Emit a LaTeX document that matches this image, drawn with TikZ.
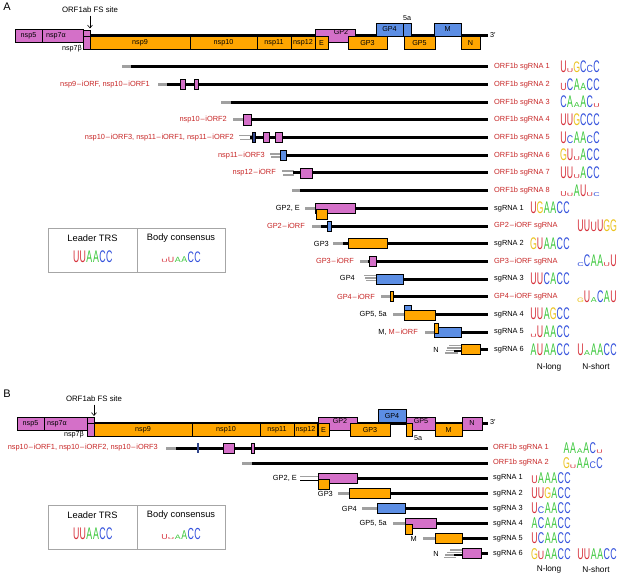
\documentclass[tikz,border=0pt]{standalone}
\usepackage{fontspec}
\setmainfont{Liberation Sans}
\usepackage{graphicx}
\usetikzlibrary{arrows.meta}
\definecolor{pinkc}{RGB}{212,112,200}
\definecolor{orangec}{RGB}{255,166,0}
\definecolor{bluec}{RGB}{92,142,228}
\definecolor{navyc}{RGB}{50,70,140}
\definecolor{redt}{RGB}{200,40,40}
\definecolor{gryl}{RGB}{160,160,160}
\definecolor{lu}{RGB}{215,50,60}
\definecolor{la}{RGB}{60,200,60}
\definecolor{lc}{RGB}{50,80,220}
\definecolor{lg}{RGB}{235,195,30}
\newcommand{\fsz}{\fontsize{7.4}{8}\selectfont}
\newcommand{\gsz}{\fontsize{7.2}{8}\selectfont}
\newcommand{\dsh}{\kern0.8pt–\kern0.8pt}
\newcommand{\LgL}[3]{\makebox[6.6pt]{\textcolor{#1}{\scalebox{1.1}[#2]{#3}}}}
\newcommand{\LgU}[1]{\LgL{lu}{#1}{U}}
\newcommand{\LgA}[1]{\LgL{la}{#1}{A}}
\newcommand{\LgC}[1]{\LgL{lc}{#1}{C}}
\newcommand{\LgG}[1]{\LgL{lg}{#1}{G}}
\begin{document}
\begin{tikzpicture}[x=1pt,y=-1pt,
  boxP/.style={fill=pinkc,draw=black,line width=0.5pt},
  boxO/.style={fill=orangec,draw=black,line width=0.5pt},
  boxB/.style={fill=bluec,draw=black,line width=0.5pt},
  rnaline/.style={line width=3pt,black},
  ldrline/.style={line width=3pt,gryl},
  thinldr/.style={line width=1.5pt,gryl},
  thinblk/.style={line width=1.5pt,black},
  leftlbl/.style={font=\fsz,anchor=east,inner sep=0pt},
  rightlbl/.style={font=\fsz,anchor=west,inner sep=0pt},
  genlbl/.style={font=\gsz,inner sep=0pt},
  logonode/.style={font=\fontsize{8}{8}\selectfont,anchor=base west,inner sep=0pt},
  legtxt/.style={font=\fontsize{9.3}{10}\selectfont,inner sep=0pt},
  panel/.style={font=\fontsize{11}{12}\selectfont,inner sep=0pt},
  nlab/.style={font=\fontsize{8.3}{9}\selectfont,inner sep=0pt}]
\useasboundingbox[fill=white] (0,0) rectangle (617,577);

%%%%%%%%%%%%%%%% PANEL A %%%%%%%%%%%%%%%%
\node[panel] (pA) at (7,7) {A};
\node[font=\fontsize{7.8}{9}\selectfont,inner sep=0pt] (fsA) at (90,10) {ORF1ab FS site};
\coordinate (fsAend) at (90,28.5);
\draw[-{Straight Barb[length=3pt,width=5pt]},line width=0.6pt] (fsA.south) ++(0,2.5) -- (fsAend);
% genome
\draw[rnaline] (15,36) -- (488,36);
\draw[boxP] (15,29.5) rectangle (42,42.5);
\draw[boxP] (42,29.5) rectangle (83,42.5);
\draw[boxP] (83,30) rectangle (90,36.5);
\draw[boxP] (83,36.5) rectangle (90,49.5);
\draw[boxO] (90,36.5) rectangle (190,49.5);
\draw[boxO] (190,36.5) rectangle (257,49.5);
\draw[boxO] (257,36.5) rectangle (291,49.5);
\draw[boxO] (291,36.5) rectangle (315,49.5);
\draw[boxP] (315,29.5) rectangle (355,42.5);
\draw[boxO] (315,36.5) rectangle (328,49.5);
\draw[boxO] (348,36.5) rectangle (387,49.5);
\draw[boxB] (376,23) rectangle (403,36);
\draw[boxB] (403,23) rectangle (411,36);
\draw[boxO] (404,36.5) rectangle (435,49.5);
\draw[boxB] (434,23) rectangle (461,36);
\draw[boxO] (461,36.5) rectangle (480,49.5);
\node[genlbl] (gA1) at (28.5,36) {nsp5};
\node[genlbl] (gA2) at (56,36) {nsp7α};
\node[genlbl,anchor=east] (gA3) at (82,48.5) {nsp7β};
\node[genlbl] (gA4) at (140,43) {nsp9};
\node[genlbl] (gA5) at (223.5,43) {nsp10};
\node[genlbl] (gA6) at (274,43) {nsp11};
\node[genlbl] (gA7) at (303,43) {nsp12};
\node[genlbl] (gA8) at (321.5,43) {E};
\node[genlbl] (gA9) at (341,32.5) {GP2};
\node[genlbl] (gA10) at (367.5,43) {GP3};
\node[genlbl] (gA11) at (389.5,29.5) {GP4};
\node[genlbl] (gA12) at (407,18) {5a};
\node[genlbl] (gA13) at (419.5,43) {GP5};
\node[genlbl] (gA14) at (447.5,29.5) {M};
\node[genlbl] (gA15) at (470.5,43) {N};
\node[genlbl,anchor=west] (gA16) at (490,35) {3′};

% rows
% r1
\draw[ldrline] (122,67) -- (131,67); \draw[rnaline] (131,67) -- (488,67);
% r2
\node[leftlbl,text=redt] (lA2) at (150,84.6) {nsp9\dsh iORF, nsp10\dsh iORF1};
\draw[ldrline] (158,84.6) -- (167,84.6); \draw[rnaline] (167,84.6) -- (488,84.6);
\draw[boxP] (180,79.6) rectangle (185,89.6);
\draw[boxP] (194,79.6) rectangle (198,89.6);
% r3
\draw[ldrline] (221,102.3) -- (231,102.3); \draw[rnaline] (231,102.3) -- (488,102.3);
% r4
\node[leftlbl,text=redt] (lA4) at (227,120) {nsp10\dsh iORF2};
\draw[ldrline] (233,120) -- (243,120); \draw[rnaline] (243,120) -- (488,120);
\draw[boxP] (243,114.5) rectangle (251,125.5);
% r5
\node[leftlbl,text=redt] (lA5) at (234,137.6) {nsp10\dsh iORF3, nsp11\dsh iORF1, nsp11\dsh iORF2};
\draw[thinldr] (239,135.3) -- (252,135.3); \draw[thinldr] (240,139.6) -- (252,139.6);
\draw[rnaline] (250,137.6) -- (488,137.6);
\draw[fill=navyc,draw=black,line width=0.4pt] (252,132.6) rectangle (254.8,142.6);
\draw[boxP] (263,132.6) rectangle (269,142.6);
\draw[boxP] (275,132.6) rectangle (282,142.6);
% r6
\node[leftlbl,text=redt] (lA6) at (265,155.3) {nsp11\dsh iORF3};
\draw[thinldr] (270,154) -- (281,154); \draw[thinldr] (271,157) -- (281,157);
\draw[rnaline] (280,155.3) -- (488,155.3);
\draw[boxB] (280,150.3) rectangle (286,160.3);
% r7
\node[leftlbl,text=redt] (lA7) at (276,173) {nsp12\dsh iORF};
\draw[thinldr] (282,171) -- (294,171); \draw[thinldr] (283,175) -- (294,175);
\draw[rnaline] (293,173) -- (488,173);
\draw[boxP] (300,168) rectangle (312,178);
% r8
\draw[ldrline] (292,190.6) -- (300,190.6); \draw[rnaline] (300,190.6) -- (488,190.6);
% r9
\node[leftlbl] (lA9) at (300,208.3) {GP2, E};
\draw[ldrline] (305,208.3) -- (315,208.3); \draw[rnaline] (315,208.3) -- (488,208.3);
\draw[boxP] (315,203.3) rectangle (355,213.3);
\draw[boxO] (316,209) rectangle (327,219);
% r10
\node[leftlbl,text=redt] (lA10) at (305,226) {GP2\dsh iORF};
\draw[ldrline] (312,226) -- (321,226); \draw[rnaline] (321,226) -- (488,226);
\draw[boxB] (327,221) rectangle (331,231);
% r11
\node[leftlbl] (lA11) at (329,243.6) {GP3};
\draw[ldrline] (333,243.6) -- (343,243.6); \draw[rnaline] (343,243.6) -- (488,243.6);
\draw[boxO] (348,238.6) rectangle (387,248.6);
% r12
\node[leftlbl,text=redt] (lA12) at (354,261.3) {GP3\dsh iORF};
\draw[ldrline] (360,261.3) -- (368,261.3); \draw[rnaline] (368,261.3) -- (488,261.3);
\draw[boxP] (369,256.3) rectangle (376,266.3);
% r13
\node[leftlbl] (lA13) at (355,278) {GP4};
\draw[thinldr] (364,275.5) -- (377,275.5);
\draw[thinldr] (365,278) -- (377,278);
\draw[thinldr] (366,280.5) -- (377,280.5);
\draw[rnaline] (376,279) -- (488,279);
\draw[boxB] (376,274) rectangle (403,284);
% r14
\node[leftlbl,text=redt] (lA14) at (375,296.6) {GP4\dsh iORF};
\draw[ldrline] (381,296.6) -- (390,296.6); \draw[rnaline] (390,296.6) -- (488,296.6);
\draw[boxO] (390,291.6) rectangle (393,301.6);
% r15
\node[leftlbl] (lA15) at (387,314.3) {GP5, 5a};
\draw[ldrline] (393,314.3) -- (404,314.3); \draw[rnaline] (404,314.3) -- (488,314.3);
\draw[boxB] (404,305) rectangle (411,315);
\draw[boxO] (404,310.5) rectangle (435,320.5);
% r16
\node[leftlbl] (lA16) at (418,332) {M, \textcolor{redt}{M\dsh iORF}};
\draw[ldrline] (425,332) -- (434,332); \draw[rnaline] (434,332) -- (488,332);
\draw[boxB] (434,327.5) rectangle (461,337.5);
\draw[boxO] (434,323) rectangle (438,333);
% r17
\node[leftlbl] (lA17) at (439,349.6) {N};
\draw[thinldr] (449,345.6) -- (461,345.6);
\draw[thinldr] (447,348) -- (461,348);
\draw[thinldr] (446,350.5) -- (461,350.5);
\draw[thinldr] (445,353) -- (458,353);
\draw[thinblk] (454,351) -- (461,351);
\draw[rnaline] (478,349.6) -- (488,349.6);
\draw[boxO] (461,344.6) rectangle (480,354.6);

% right labels A
\node[rightlbl,text=redt] (rA1) at (494,67) {ORF1b sgRNA 1};
\node[rightlbl,text=redt] (rA2) at (494,84.6) {ORF1b sgRNA 2};
\node[rightlbl,text=redt] (rA3) at (494,102.3) {ORF1b sgRNA 3};
\node[rightlbl,text=redt] (rA4) at (494,120) {ORF1b sgRNA 4};
\node[rightlbl,text=redt] (rA5) at (494,137.6) {ORF1b sgRNA 5};
\node[rightlbl,text=redt] (rA6) at (494,155.3) {ORF1b sgRNA 6};
\node[rightlbl,text=redt] (rA7) at (494,173) {ORF1b sgRNA 7};
\node[rightlbl,text=redt] (rA8) at (494,190.6) {ORF1b sgRNA 8};
\node[rightlbl] (rA9) at (494,208.3) {sgRNA 1};
\node[rightlbl,text=redt] (rA10) at (494,226) {GP2\dsh iORF sgRNA};
\node[rightlbl] (rA11) at (494,243.6) {sgRNA 2};
\node[rightlbl,text=redt] (rA12) at (494,261.3) {GP3\dsh iORF sgRNA};
\node[rightlbl] (rA13) at (494,279) {sgRNA 3};
\node[rightlbl,text=redt] (rA14) at (494,296.6) {GP4\dsh iORF sgRNA};
\node[rightlbl] (rA15) at (494,314.3) {sgRNA 4};
\node[rightlbl] (rA16) at (494,332) {sgRNA 5};
\node[rightlbl] (rA17) at (494,349.6) {sgRNA 6};

% logos A
\node[logonode] (mA1) at (560,72.5) {\LgU{2.1}\LgU{0.7}\LgG{1.9}\LgC{2.1}\LgC{1.3}\LgC{2.1}};
\node[logonode] (mA2) at (560,90.1) {\LgU{1.3}\LgC{2.1}\LgA{2.1}\LgA{1.3}\LgC{2.1}\LgC{2.1}};
\node[logonode] (mA3) at (560,107.8) {\LgC{2.1}\LgA{2.1}\LgA{0.9}\LgA{2.1}\LgC{2.1}\LgU{0.7}};
\node[logonode] (mA4) at (560,125.5) {\LgU{2.1}\LgU{2.1}\LgG{2.1}\LgC{2.1}\LgC{2.1}\LgC{2.1}};
\node[logonode] (mA5) at (560,143.1) {\LgU{2.1}\LgC{1.4}\LgA{2.1}\LgA{2.1}\LgC{1.4}\LgC{2.1}};
\node[logonode] (mA6) at (560,160.8) {\LgG{2.1}\LgU{2.1}\LgU{0.7}\LgA{2.1}\LgC{2.1}\LgC{2.1}};
\node[logonode] (mA7) at (560,178.5) {\LgU{2.1}\LgU{2.1}\LgU{0.7}\LgA{2.1}\LgC{2.1}\LgC{2.1}};
\node[logonode] (mA8) at (560,196.1) {\LgU{0.9}\LgU{0.6}\LgA{2.1}\LgU{2.1}\LgU{0.7}\LgC{0.7}};
\node[logonode] (mA9) at (530,213.8) {\LgU{2.1}\LgG{2.1}\LgA{2.1}\LgA{2.1}\LgC{2.1}\LgC{2.1}};
\node[logonode] (mA10) at (577,231.5) {\LgU{2.1}\LgU{2.1}\LgU{1.7}\LgU{2.1}\LgG{2.1}\LgG{2.1}};
\node[logonode] (mA11) at (530,249.1) {\LgG{2.1}\LgU{2.1}\LgA{2.1}\LgA{2.1}\LgC{2.1}\LgC{2.1}};
\node[logonode] (mA12) at (577,266.8) {\LgC{0.7}\LgC{2.1}\LgA{2.1}\LgA{2.1}\LgU{0.7}\LgU{2.1}};
\node[logonode] (mA13) at (530,284.5) {\LgU{2.1}\LgU{2.1}\LgC{2.1}\LgA{2.1}\LgC{2.1}\LgC{2.1}};
\node[logonode] (mA14) at (577,302.1) {\LgG{0.8}\LgU{2.1}\LgA{0.9}\LgC{2.1}\LgA{2.1}\LgU{2.1}};
\node[logonode] (mA15) at (530,319.8) {\LgU{2.1}\LgU{2.1}\LgA{2.1}\LgG{2.1}\LgC{2.1}\LgC{2.1}};
\node[logonode] (mA16) at (530,337.5) {\LgU{0.6}\LgU{2.1}\LgA{2.1}\LgA{2.1}\LgC{2.1}\LgC{2.1}};
\node[logonode] (mA17) at (530,355.1) {\LgA{2.1}\LgU{2.1}\LgA{2.1}\LgA{2.1}\LgC{2.1}\LgC{2.1}};
\node[logonode] (mA18) at (577,355.1) {\LgU{2.1}\LgA{0.9}\LgA{2.1}\LgA{2.1}\LgC{2.1}\LgC{2.1}};
\node[nlab] (nlA) at (549,367) {N-long};
\node[nlab] (nsA) at (596,367) {N-short};

% legend A
\draw[gray!70,line width=0.8pt] (48,228) rectangle (225,272);
\draw[gray!70,line width=0.8pt] (137,228) -- (137,272);
\node[legtxt] (ltA) at (92.5,238.5) {Leader TRS};
\node[legtxt] (bcA) at (181,238.5) {Body consensus};
\node[logonode] (llA) at (72.7,262) {\LgU{2.1}\LgU{2.1}\LgA{2.1}\LgA{2.1}\LgC{2.1}\LgC{2.1}};
\node[logonode] (blA) at (161,262) {\LgU{0.6}\LgU{0.95}\LgA{0.95}\LgA{1.05}\LgC{1.9}\LgC{1.9}};

%%%%%%%%%%%%%%%% PANEL B %%%%%%%%%%%%%%%%
\node[panel] (pB) at (7,394) {B};
\node[font=\fontsize{7.8}{9}\selectfont,inner sep=0pt] (fsB) at (94,399) {ORF1ab FS site};
\coordinate (fsBend) at (94,416);
\draw[-{Straight Barb[length=3pt,width=5pt]},line width=0.6pt] (fsB.south) ++(0,2.5) -- (fsBend);
\draw[rnaline] (17,423) -- (488,423);
\draw[boxP] (17,417) rectangle (44,430);
\draw[boxP] (44,417) rectangle (87,430);
\draw[boxP] (87,417) rectangle (94,423.5);
\draw[boxP] (87,423.5) rectangle (94,436.5);
\draw[boxO] (94,423.5) rectangle (192,436.5);
\draw[boxO] (192,423.5) rectangle (260,436.5);
\draw[boxO] (260,423.5) rectangle (294,436.5);
\draw[boxO] (294,423.5) rectangle (317,436.5);
\draw[boxP] (318,417) rectangle (357,430);
\draw[boxO] (318,423.5) rectangle (329,436.5);
\draw[boxO] (350,423.5) rectangle (390,436.5);
\draw[boxB] (378,409.5) rectangle (406,422.5);
\draw[boxP] (406,417) rectangle (435,430);
\draw[boxO] (406,423.5) rectangle (412,436.5);
\draw[boxO] (435,423.5) rectangle (462,436.5);
\draw[boxP] (462,417) rectangle (482,430);
\node[genlbl] (gB1) at (30.5,423.5) {nsp5};
\node[genlbl] (gB2) at (57,423.5) {nsp7α};
\node[genlbl,anchor=east] (gB3) at (84,434.5) {nsp7β};
\node[genlbl] (gB4) at (143,430) {nsp9};
\node[genlbl] (gB5) at (226,430) {nsp10};
\node[genlbl] (gB6) at (277,430) {nsp11};
\node[genlbl] (gB7) at (305.5,430) {nsp12};
\node[genlbl] (gB8) at (323.5,430) {E};
\node[genlbl] (gB9) at (340,421) {GP2};
\node[genlbl] (gB10) at (370,430) {GP3};
\node[genlbl] (gB11) at (392,416) {GP4};
\node[genlbl] (gB12) at (421,421.5) {GP5};
\node[genlbl,anchor=west] (gB13) at (414,438.5) {5a};
\node[genlbl] (gB14) at (448.5,430) {M};
\node[genlbl] (gB15) at (472,423.5) {N};
\node[genlbl,anchor=west] (gB16) at (490,422.5) {3′};

% rows B
\node[leftlbl,text=redt] (lB1) at (158,448) {nsp10\dsh iORF1, nsp10\dsh iORF2, nsp10\dsh iORF3};
\draw[ldrline] (166,448) -- (176,448); \draw[rnaline] (176,448) -- (488,448);
\draw[line width=1.2pt,navyc] (198,443) -- (198,453);
\draw[boxP] (223,443) rectangle (234,453);
\draw[boxP] (251.5,443) rectangle (254,453);
\draw[ldrline] (242,463) -- (252,463); \draw[rnaline] (252,463) -- (488,463);
% sgRNA1
\node[leftlbl] (lB3) at (297,478) {GP2, E};
\draw[thinldr] (300,476.3) -- (318,476.3);
\draw[line width=0.9pt,black] (300,480) -- (318,480);
\draw[rnaline] (355,478) -- (488,478);
\draw[boxP] (318,473) rectangle (357,483);
\draw[boxO] (318,479) rectangle (329,489);
% sgRNA2
\node[leftlbl] (lB4) at (333,493.5) {GP3};
\draw[ldrline] (338,493.5) -- (349,493.5); \draw[rnaline] (349,493.5) -- (488,493.5);
\draw[boxO] (349,488.5) rectangle (390,498.5);
% sgRNA3
\node[leftlbl] (lB5) at (357,508.5) {GP4};
\draw[ldrline] (362,508.5) -- (377,508.5); \draw[rnaline] (377,508.5) -- (488,508.5);
\draw[boxB] (377,503.5) rectangle (405,513.5);
% sgRNA4
\node[leftlbl] (lB6) at (387,523.5) {GP5, 5a};
\draw[ldrline] (393,523.5) -- (405,523.5); \draw[rnaline] (405,523.5) -- (488,523.5);
\draw[boxP] (405,518.5) rectangle (436,528.5);
\draw[boxO] (405,524.5) rectangle (412,534.5);
% sgRNA5
\node[leftlbl] (lB7) at (417,539) {M};
\draw[ldrline] (423,538.6) -- (435,538.6); \draw[rnaline] (435,538.6) -- (488,538.6);
\draw[boxO] (435,533.6) rectangle (462,543.6);
% sgRNA6
\node[leftlbl] (lB8) at (439,553.7) {N};
\draw[thinldr] (450,550) -- (462,550);
\draw[thinldr] (447,552.5) -- (462,552.5);
\draw[thinldr] (445,555) -- (458,555);
\draw[thinldr] (444,557.5) -- (456,557.5);
\draw[thinblk] (454,555) -- (462,555);
\draw[rnaline] (480,553.7) -- (488,553.7);
\draw[boxP] (462,548.7) rectangle (481,558.7);

\node[rightlbl,text=redt] (rB1) at (493,448) {ORF1b sgRNA 1};
\node[rightlbl,text=redt] (rB2) at (493,463) {ORF1b sgRNA 2};
\node[rightlbl] (rB3) at (493,478) {sgRNA 1};
\node[rightlbl] (rB4) at (493,493.5) {sgRNA 2};
\node[rightlbl] (rB5) at (493,508.5) {sgRNA 3};
\node[rightlbl] (rB6) at (493,523.5) {sgRNA 4};
\node[rightlbl] (rB7) at (493,538.6) {sgRNA 5};
\node[rightlbl] (rB8) at (493,553.7) {sgRNA 6};

\node[logonode] (mB1) at (563,453.3) {\LgA{1.95}\LgA{1.95}\LgA{0.85}\LgA{1.95}\LgC{1.95}\LgU{0.65}};
\node[logonode] (mB2) at (563,468.3) {\LgG{1.95}\LgU{0.65}\LgA{1.95}\LgA{1.95}\LgC{1.2}\LgC{1.95}};
\node[logonode] (mB3) at (531,483.3) {\LgU{1.4}\LgA{1.95}\LgA{1.95}\LgA{1.95}\LgC{1.95}\LgC{1.95}};
\node[logonode] (mB4) at (531,498.8) {\LgU{1.95}\LgU{1.95}\LgG{1.95}\LgA{1.95}\LgC{1.95}\LgC{1.95}};
\node[logonode] (mB5) at (531,513.8) {\LgU{1.95}\LgC{1.2}\LgA{1.95}\LgA{1.95}\LgC{1.95}\LgC{1.95}};
\node[logonode] (mB6) at (531,528.8) {\LgA{1.95}\LgC{1.95}\LgA{1.95}\LgA{1.95}\LgC{1.95}\LgC{1.95}};
\node[logonode] (mB7) at (531,543.9) {\LgU{1.95}\LgC{1.95}\LgA{1.95}\LgA{1.95}\LgC{1.95}\LgC{1.95}};
\node[logonode] (mB8) at (531,559) {\LgG{1.95}\LgU{1.5}\LgA{1.95}\LgA{1.95}\LgC{1.95}\LgC{1.95}};
\node[logonode] (mB9) at (577,559) {\LgU{1.95}\LgU{1.95}\LgA{1.95}\LgA{1.95}\LgC{1.95}\LgC{1.95}};
\node[nlab] (nlB) at (549,569.5) {N-long};
\node[nlab] (nsB) at (596,569.5) {N-short};

% legend B
\draw[gray!70,line width=0.8pt] (48,505) rectangle (225,549);
\draw[gray!70,line width=0.8pt] (137,505) -- (137,549);
\node[legtxt] (ltB) at (92.5,515.5) {Leader TRS};
\node[legtxt] (bcB) at (181,515.5) {Body consensus};
\node[logonode] (llB) at (72.7,539.5) {\LgU{2.1}\LgU{2.1}\LgA{2.1}\LgA{2.1}\LgC{2.1}\LgC{2.1}};
\node[logonode] (blB) at (161,539.5) {\LgU{0.9}\LgU{0.35}\LgA{0.8}\LgA{1.6}\LgC{2.0}\LgC{2.0}};
\end{tikzpicture}
\end{document}
